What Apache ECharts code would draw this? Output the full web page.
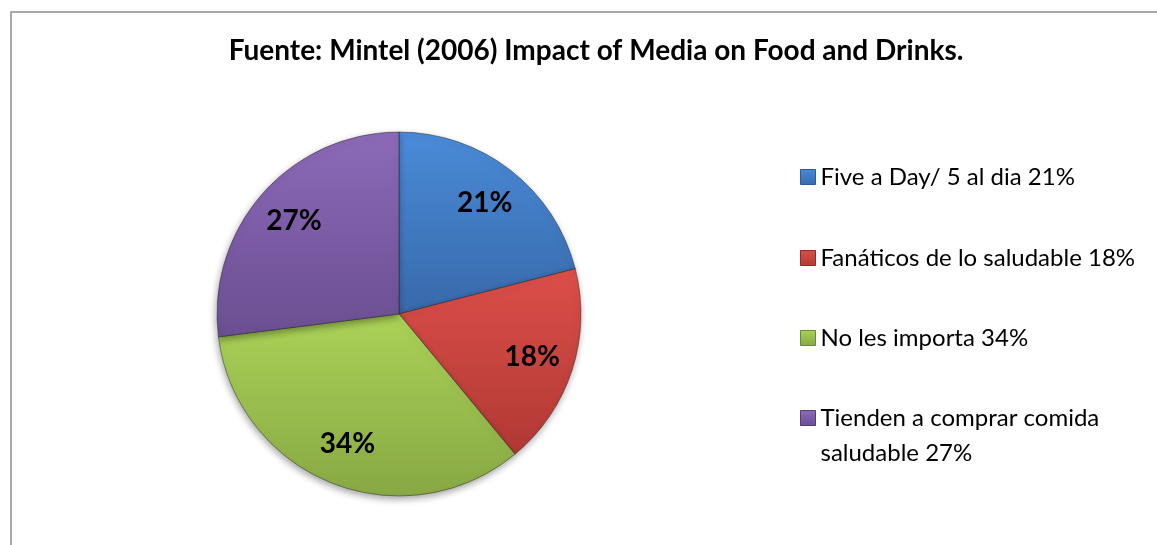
<!DOCTYPE html>
<html>
<head>
<meta charset="utf-8">
<script src="https://cdn.jsdelivr.net/npm/echarts@6/dist/echarts.min.js"></script>
<style>
  html, body { margin: 0; padding: 0; background: #ffffff; }
  #chart { width: 1157px; height: 545px; }
</style>
</head>
<body>
<div id="chart"></div>
<script>
// Survey segments (Mintel 2006) — share of respondents, in percent
const titleText = 'Fuente: Mintel (2006) Impact of Media on Food and Drinks.';
const categories = [
  'Five a Day/ 5 al dia 21%',
  'Fanáticos de lo saludable 18%',
  'No les importa 34%',
  'Tienden a comprar comida saludable 27%'
];
const values = [21, 18, 34, 27];

// Slice shading: lighter at the top, darker at the bottom
const topColors = ['#4a8bd8', '#dc4f4a', '#abd258', '#8c6ab8'];
const bottomColors = ['#3869aa', '#b13834', '#87a843', '#6b4e92'];
const edgeColors = ['#2f5a92', '#8e2b28', '#6d8a33', '#553c78'];

const FONT = 'Lato, "Open Sans", sans-serif';
const PIE_CENTER = [399, 314];
const PIE_RADIUS = 182;

function sliceFill(i) {
  return new echarts.graphic.LinearGradient(0, 0, 0, 1, [
    { offset: 0, color: topColors[i] },
    { offset: 1, color: bottomColors[i] }
  ]);
}

// Wrap long legend names on word boundaries
function wrapWords(text, maxChars) {
  const words = text.split(' ');
  const lines = [];
  let cur = '';
  words.forEach(w => {
    const next = cur ? cur + ' ' + w : w;
    if (next.length > maxChars && cur) { lines.push(cur); cur = w; }
    else { cur = next; }
  });
  if (cur) lines.push(cur);
  return lines;
}

const LEGEND_LINE = 35;
const legendIconCenters = [177, 258, 338, 418];

const legends = categories.map((name, i) => {
  const lines = wrapWords(name, 30);
  // blank leading lines keep the marker level with the first text line
  const pad = lines.length - 1;
  const totalLines = 2 * pad + 1;
  return {
    data: [name],
    orient: 'vertical',
    left: 800,
    top: legendIconCenters[i] - totalLines * LEGEND_LINE / 2,
    padding: 0,
    icon: 'rect',
    itemWidth: 15,
    itemHeight: 15,
    selectedMode: false,
    itemStyle: { borderColor: edgeColors[i], borderWidth: 1 },
    formatter: () => '\n'.repeat(pad) + lines.join('\n'),
    textStyle: {
      fontFamily: FONT,
      fontSize: 24,
      color: '#000000',
      lineHeight: LEGEND_LINE
    }
  };
});

const chart = echarts.init(document.getElementById('chart'), null, { renderer: 'canvas' });

chart.setOption({
  animation: false,
  backgroundColor: '#ffffff',
  title: {
    text: titleText,
    left: 591,
    textAlign: 'center',
    top: 29,
    textStyle: {
      fontFamily: FONT,
      fontWeight: 'bold',
      fontSize: 28,
      lineHeight: 34,
      color: '#000000'
    }
  },
  legend: legends,
  graphic: [
    {
      type: 'rect',
      silent: true,
      shape: { x: 11, y: 12, width: 1300, height: 700 },
      style: { fill: 'none', stroke: '#8c8c8c', lineWidth: 1.5 }
    }
  ],
  series: [
    {
      name: 'segments',
      type: 'pie',
      center: PIE_CENTER,
      radius: PIE_RADIUS,
      startAngle: 90,
      clockwise: true,
      silent: true,
      data: values.map((v, i) => ({
        name: categories[i],
        value: v,
        itemStyle: { color: sliceFill(i) }
      })),
      itemStyle: {
        borderColor: 'rgba(30,30,30,0.45)',
        borderWidth: 1,
        shadowBlur: 7,
        shadowColor: 'rgba(0,0,0,0.35)',
        shadowOffsetX: -1,
        shadowOffsetY: 3
      },
      label: { show: false },
      labelLine: { show: false },
      emphasis: { disabled: true }
    },
    {
      // transparent ring that carries the percentage labels
      name: 'labels',
      type: 'pie',
      center: PIE_CENTER,
      radius: [100, 174],
      startAngle: 90,
      clockwise: true,
      silent: true,
      data: values.map((v, i) => ({ name: categories[i], value: v })),
      itemStyle: { color: 'rgba(0,0,0,0)', borderWidth: 0 },
      label: {
        show: true,
        position: 'inside',
        formatter: '{c}%',
        fontFamily: FONT,
        fontWeight: 'bold',
        fontSize: 28,
        color: '#000000'
      },
      labelLine: { show: false },
      emphasis: { disabled: true }
    }
  ]
});
</script>
</body>
</html>
